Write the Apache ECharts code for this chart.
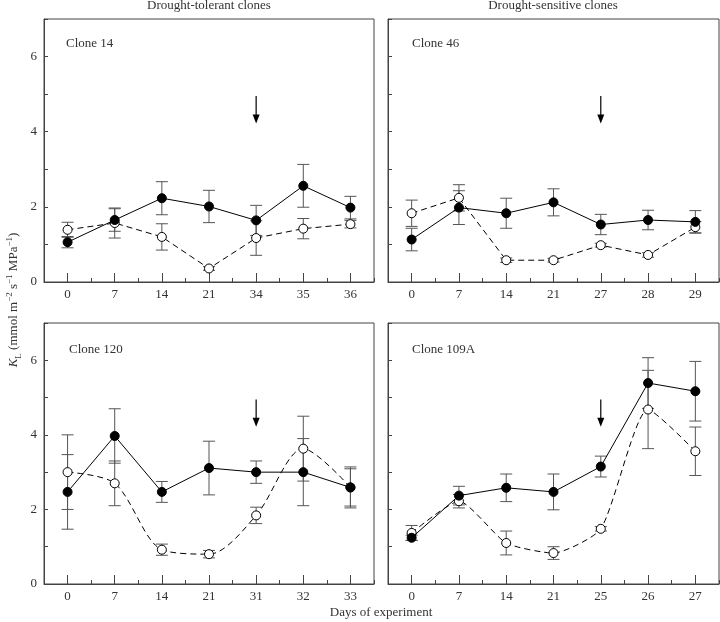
<!DOCTYPE html>
<html><head><meta charset="utf-8">
<script src="https://cdn.jsdelivr.net/npm/echarts@6/dist/echarts.min.js"></script>
<style>html,body{margin:0;padding:0;background:#fff}#c{width:720px;height:622px}</style>
</head><body><div id="c"></div>
<script>
// ---------- data ----------
const panelNames = ['Clone 14', 'Clone 46', 'Clone 120', 'Clone 109A'];
const groupTitles = ['Drought-tolerant clones', 'Drought-sensitive clones'];
const yTicks = [0, 2, 4, 6];

const days14 = ['0', '7', '14', '21', '34', '35', '36'];
const filled14 = [1.06, 1.65, 2.23, 2.01, 1.64, 2.56, 1.98];
const filled14Err = [0.15, 0.3, 0.44, 0.43, 0.4, 0.57, 0.3];
const open14 = [1.39, 1.57, 1.2, 0.36, 1.17, 1.42, 1.54];
const open14Err = [0.2, 0.4, 0.35, 0.05, 0.46, 0.27, 0.1];
const arrow14 = '34';

const days46 = ['0', '7', '14', '21', '27', '28', '29'];
const filled46 = [1.13, 1.98, 1.83, 2.12, 1.53, 1.65, 1.6];
const filled46Err = [0.3, 0.45, 0.4, 0.36, 0.27, 0.26, 0.3];
const open46 = [1.83, 2.24, 0.58, 0.58, 0.98, 0.72, 1.46];
const open46Err = [0.35, 0.35, 0.06, 0.05, 0.05, 0.06, 0.15];
const arrow46 = '27';

const days120 = ['0', '7', '14', '21', '31', '32', '33'];
const filled120 = [2.47, 3.97, 2.47, 3.11, 3.0, 3.0, 2.59];
const filled120Err = [1.0, 0.73, 0.28, 0.72, 0.3, 0.9, 0.55];
const open120 = [3.0, 2.7, 0.92, 0.8, 1.84, 3.63, 2.59];
const open120Err = [1.0, 0.6, 0.15, 0.1, 0.22, 0.87, 0.5];
const arrow120 = '31';

const days109 = ['0', '7', '14', '21', '25', '26', '27'];
const filled109 = [1.24, 2.37, 2.58, 2.47, 3.15, 5.39, 5.17];
const filled109Err = [0.07, 0.25, 0.37, 0.48, 0.28, 0.68, 0.8];
const open109 = [1.37, 2.22, 1.1, 0.83, 1.48, 4.68, 3.56];
const open109Err = [0.2, 0.18, 0.32, 0.17, 0.06, 1.05, 0.65];
const arrow109 = '25';

// ---------- chart ----------
const FONT = 'Liberation Serif';
const panels = [
  {days: days14, f: filled14, fe: filled14Err, o: open14, oe: open14Err, arrow: arrow14, smooth: false},
  {days: days46, f: filled46, fe: filled46Err, o: open46, oe: open46Err, arrow: arrow46, smooth: false},
  {days: days120, f: filled120, fe: filled120Err, o: open120, oe: open120Err, arrow: arrow120, smooth: 0.3},
  {days: days109, f: filled109, fe: filled109Err, o: open109, oe: open109Err, arrow: arrow109, smooth: 0.2}
];
const grids = [
  {left: 44, top: 19, width: 330, height: 263},
  {left: 388, top: 19, width: 331, height: 263},
  {left: 44, top: 323, width: 330, height: 261},
  {left: 388, top: 323, width: 331, height: 261}
];
const AX = '#444';

const xAxis = [], yAxis = [], series = [];
function errRender(params, api) {
  const x = api.value(0), y = api.value(1), e = api.value(2);
  const t = api.coord([x, y + e]), b = api.coord([x, y - e]);
  const w = 6;
  const st = {stroke: '#555', lineWidth: 1, fill: null};
  return {type: 'group', children: [
    {type: 'line', shape: {x1: t[0], y1: t[1], x2: b[0], y2: b[1]}, style: st},
    {type: 'line', shape: {x1: t[0] - w, y1: t[1], x2: t[0] + w, y2: t[1]}, style: st},
    {type: 'line', shape: {x1: b[0] - w, y1: b[1], x2: b[0] + w, y2: b[1]}, style: st}
  ]};
}
function arrowRender(params, api) {
  const x = api.value(0);
  const top = api.coord([x, 4.95]), tip = api.coord([x, 4.22]);
  const hh = 9, hw = 3.5;
  return {type: 'group', children: [
    {type: 'line', shape: {x1: top[0], y1: top[1], x2: tip[0], y2: tip[1] - hh + 1}, style: {stroke: '#000', lineWidth: 1.2}},
    {type: 'polygon', shape: {points: [[tip[0] - hw, tip[1] - hh], [tip[0] + hw, tip[1] - hh], [tip[0], tip[1]]]}, style: {fill: '#000'}}
  ]};
}

panels.forEach((p, i) => {
  const left = (i % 2 === 0);
  xAxis.push({
    type: 'category', gridIndex: i, data: p.days, boundaryGap: true,
    axisLine: {show: true, lineStyle: {color: AX}},
    axisTick: {show: true, alignWithLabel: true, inside: true, length: 9, lineStyle: {color: AX}},
    axisLabel: {fontFamily: FONT, fontSize: 13, color: '#333', margin: 6}
  });
  xAxis.push({
    type: 'category', gridIndex: i, data: p.days, boundaryGap: true, position: 'bottom',
    axisLine: {show: false},
    axisTick: {show: true, alignWithLabel: false, inside: true, length: 4, lineStyle: {color: AX}},
    axisLabel: {show: false}
  });
  yAxis.push({
    type: 'value', gridIndex: i, min: 0, max: 7, interval: 1,
    axisLine: {show: true, lineStyle: {color: AX}},
    axisTick: {show: true, inside: true, length: 4, lineStyle: {color: AX}},
    splitLine: {show: false},
    axisLabel: {show: left, fontFamily: FONT, fontSize: 13, color: '#333', margin: 7,
      formatter: v => yTicks.indexOf(v) >= 0 ? String(v) : ''}
  });
  const xi = i * 2;
  series.push({type: 'custom', xAxisIndex: xi, yAxisIndex: i, renderItem: errRender, z: 2,
    data: p.f.map((v, k) => [k, v, p.fe[k]])});
  series.push({type: 'custom', xAxisIndex: xi, yAxisIndex: i, renderItem: errRender, z: 2,
    data: p.o.map((v, k) => [k, v, p.oe[k]])});
  series.push({type: 'line', xAxisIndex: xi, yAxisIndex: i, data: p.o, z: 3,
    symbol: 'circle', symbolSize: 9, smooth: p.smooth,
    lineStyle: {color: '#000', width: 1, type: [6, 4]},
    itemStyle: {color: '#fff', borderColor: '#000', borderWidth: 1}});
  series.push({type: 'line', xAxisIndex: xi, yAxisIndex: i, data: p.f, z: 4,
    symbol: 'circle', symbolSize: 9,
    lineStyle: {color: '#000', width: 1},
    itemStyle: {color: '#000', borderColor: '#000', borderWidth: 1}});
  series.push({type: 'custom', xAxisIndex: xi, yAxisIndex: i, renderItem: arrowRender, z: 5,
    data: [[p.days.indexOf(p.arrow)]]});
});

const gridOpts = grids.map(g => Object.assign({show: true, borderColor: AX, borderWidth: 1, backgroundColor: 'transparent'}, g));

const txt = (x, y, s, extra) => Object.assign({type: 'text', x: x, y: y, style: Object.assign({text: s, font: '13px "Liberation Serif"', fill: '#333'}, extra || {})});
const graphic = [
  txt(209, 6, groupTitles[0], {align: 'center', verticalAlign: 'middle'}),
  txt(553, 6, groupTitles[1], {align: 'center', verticalAlign: 'middle'}),
  txt(66, 44, panelNames[0], {verticalAlign: 'middle'}),
  txt(412, 44, panelNames[1], {verticalAlign: 'middle'}),
  txt(69, 350, panelNames[2], {verticalAlign: 'middle'}),
  txt(412, 350, panelNames[3], {verticalAlign: 'middle'}),
  txt(381, 613, 'Days of experiment', {align: 'center', verticalAlign: 'middle'}),
  {type: 'text', x: 14, y: 300, rotation: Math.PI / 2,
   style: {
     text: '{k|K}{sub|L}{n| (mmol m}{sup|−2}{n| s}{sup|−1}{n| MPa}{sup|−1}{n|)}',
     align: 'center', verticalAlign: 'middle', fill: '#333',
     rich: {
       k: {fontFamily: FONT, fontSize: 13, fontStyle: 'italic', fill: '#333', lineHeight: 18, verticalAlign: 'middle'},
       n: {fontFamily: FONT, fontSize: 13, fill: '#333', lineHeight: 18, verticalAlign: 'middle'},
       sub: {fontFamily: FONT, fontSize: 9, fill: '#333', lineHeight: 18, verticalAlign: 'bottom', padding: [6, 0, 0, 0]},
       sup: {fontFamily: FONT, fontSize: 9, fill: '#333', lineHeight: 18, verticalAlign: 'top', padding: [0, 0, 6, 0]}
     }
   }}
];

const chart = echarts.init(document.getElementById('c'), null, {renderer: 'canvas'});
chart.setOption({
  animation: false,
  backgroundColor: '#fff',
  grid: gridOpts,
  xAxis: xAxis,
  yAxis: yAxis,
  series: series,
  graphic: graphic
});
</script></body></html>
